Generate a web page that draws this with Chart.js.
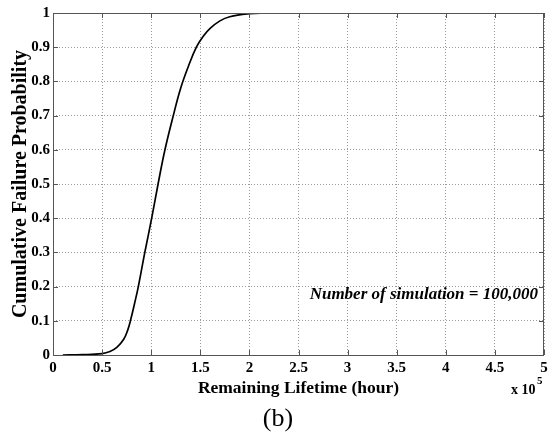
<!DOCTYPE html>
<html>
<head>
<meta charset="utf-8">
<script src="https://cdn.jsdelivr.net/npm/chart.js@4"></script>
<style>
  html, body { margin: 0; padding: 0; background: #fff; }
  #grafico { display: block; }
</style>
</head>
<body>
<canvas id="grafico" width="555" height="432"></canvas>
<script>
// remaining lifetime in units of 1e5 hours
const lifetime = [0.1, 0.3, 0.5, 0.58, 0.65, 0.72, 0.76, 0.79, 0.83, 0.869, 0.935, 1.005, 1.07, 1.14, 1.225, 1.30, 1.38, 1.46, 1.53, 1.6, 1.7, 1.8, 2.0, 2.15, 2.33];
const probability = [0, 0.001, 0.004, 0.01, 0.022, 0.046, 0.072, 0.102, 0.15, 0.2, 0.3, 0.4, 0.5, 0.6, 0.7, 0.78, 0.845, 0.9, 0.932, 0.955, 0.977, 0.989, 0.998, 1.0, 1.0];
const xTicks = [0, 0.5, 1, 1.5, 2, 2.5, 3, 3.5, 4, 4.5, 5];
const yTicks = [0, 0.1, 0.2, 0.3, 0.4, 0.5, 0.6, 0.7, 0.8, 0.9, 1];

const serif = "'Liberation Serif', 'Times New Roman', serif";

const pontos = lifetime.map((x, i) => ({ x: x, y: probability[i] }));

// box around the plot, inward ticks, and the loose texts
const moldura = {
  id: "moldura",
  afterDraw(chart) {
    const ctx = chart.ctx;
    const a = chart.chartArea;
    const sx = chart.scales.x, sy = chart.scales.y;
    ctx.save();
    ctx.strokeStyle = "#555";
    ctx.lineWidth = 1;
    ctx.strokeRect(Math.round(a.left) + 0.5, Math.round(a.top) + 0.5, Math.round(a.right - a.left) - 1, Math.round(a.bottom - a.top));
    ctx.beginPath();
    xTicks.forEach(v => {
      const px = Math.round(sx.getPixelForValue(v)) + 0.5;
      ctx.moveTo(px, a.bottom); ctx.lineTo(px, a.bottom - 5);
      ctx.moveTo(px, a.top); ctx.lineTo(px, a.top + 5);
    });
    yTicks.forEach(v => {
      const py = Math.round(sy.getPixelForValue(v)) + 0.5;
      ctx.moveTo(a.left, py); ctx.lineTo(a.left + 5, py);
      ctx.moveTo(a.right, py); ctx.lineTo(a.right - 5, py);
    });
    ctx.stroke();

    ctx.fillStyle = "#000";
    ctx.textBaseline = "middle";
    ctx.textAlign = "right";
    ctx.font = "italic bold 17px " + serif;
    ctx.fillText("Number of simulation = 100,000", 538, 295);

    ctx.textAlign = "left";
    ctx.font = "bold 14px " + serif;
    ctx.fillText("x 10", 511, 390);
    ctx.font = "bold 11px " + serif;
    ctx.fillText("5", 537, 381);

    ctx.textAlign = "center";
    ctx.font = "26px " + serif;
    ctx.fillText("(b)", 278, 419);
    ctx.restore();
  }
};

const ctx = document.getElementById("grafico").getContext("2d");

new Chart(ctx, {
  type: "line",
  data: {
    datasets: [{
      data: pontos,
      borderColor: "#000",
      borderWidth: 1.7,
      pointRadius: 0,
      fill: false,
      tension: 0.4
    }]
  },
  options: {
    responsive: false,
    animation: false,
    layout: { padding: { top: 13, right: 11, left: 0, bottom: 0 } },
    plugins: { legend: { display: false }, tooltip: { enabled: false } },
    scales: {
      x: {
        type: "linear",
        min: 0,
        max: 5,
        afterBuildTicks: s => { s.ticks = xTicks.map(v => ({ value: v })); },
        afterFit: s => { s.height = 77; },
        ticks: {
          color: "#000",
          padding: 4,
          maxRotation: 0,
          font: { family: serif, size: 15, weight: "bold" },
          callback: v => String(+v.toFixed(1))
        },
        grid: { color: "#9a9a9a", drawTicks: false },
        border: { display: false, dash: [1, 2] },
        title: {
          display: true,
          text: "Remaining Lifetime (hour)",
          color: "#000",
          font: { family: serif, size: 17.5, weight: "bold" },
          padding: { top: 0, bottom: 33 }
        }
      },
      y: {
        type: "linear",
        min: 0,
        max: 1,
        afterBuildTicks: s => { s.ticks = yTicks.map(v => ({ value: v })); },
        afterFit: s => { s.width = 53; },
        ticks: {
          color: "#000",
          padding: 3,
          font: { family: serif, size: 15, weight: "bold" },
          callback: v => String(+v.toFixed(1))
        },
        grid: { color: "#9a9a9a", drawTicks: false },
        border: { display: false, dash: [1, 2] },
        title: {
          display: true,
          text: "Cumulative Failure Probability",
          color: "#000",
          font: { family: serif, size: 20, weight: "bold" },
          padding: { top: 9, bottom: 9 }
        }
      }
    }
  },
  plugins: [moldura]
});
</script>
</body>
</html>
